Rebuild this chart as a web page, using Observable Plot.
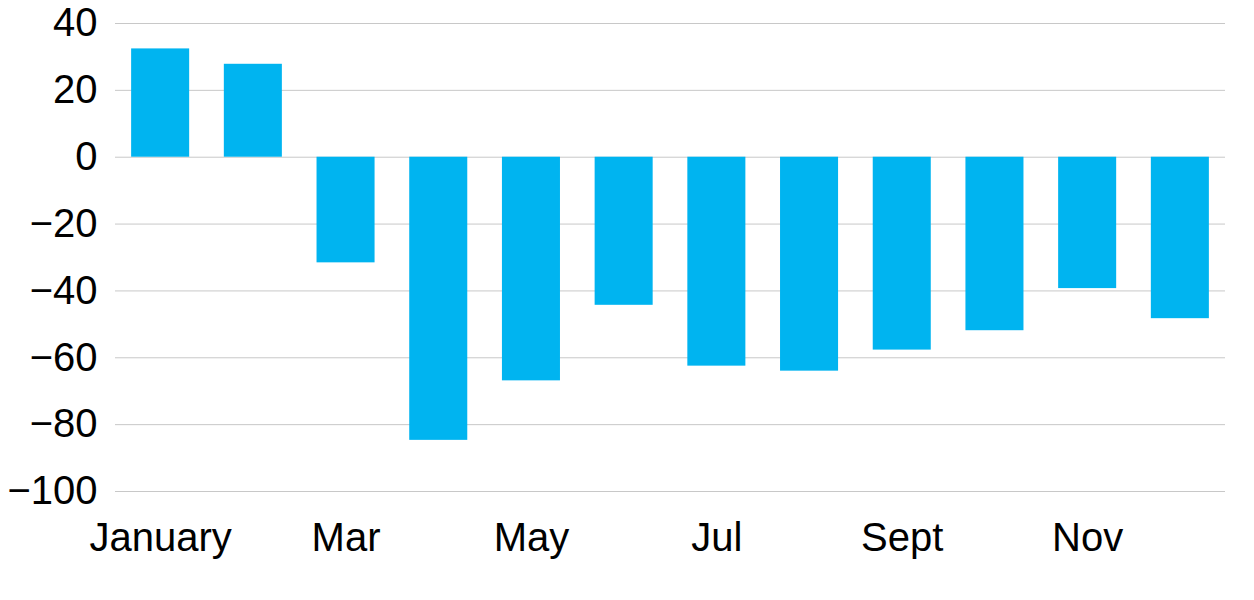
<!DOCTYPE html>
<html><head><meta charset="utf-8">
<script src="https://cdn.jsdelivr.net/npm/d3@7"></script>
<script src="https://cdn.jsdelivr.net/npm/@observablehq/plot@0.6"></script>
<style>
body{margin:0;background:#fff;}
#chart svg{font-family:"Liberation Sans",Arial,sans-serif;}
</style></head>
<body><div id="chart"></div>
<script>
const months = ["Jan","Feb","Mar","Apr","May","Jun","Jul","Aug","Sep","Oct","Nov","Dec"];
const values = [32.4, 27.8, -31.6, -84.7, -66.9, -44.3, -62.5, -64, -57.7, -51.9, -39.3, -48.3];
const xTickLabels = {Jan:"January", Mar:"Mar", May:"May", Jul:"Jul", Sep:"Sept", Nov:"Nov"};
const yTicks = [40, 20, 0, -20, -40, -60, -80, -100];

const data = months.map((m, i) => ({month: m, value: values[i]}));

const chart = Plot.plot({
  width: 1254,
  height: 600,
  marginTop: 23,
  marginBottom: 109,
  marginLeft: 115,
  marginRight: 29,
  style: {fontSize: "40px", color: "#000", background: "#fff"},
  x: {domain: months, paddingInner: 0.374, paddingOuter: 0.174, round: false, label: null},
  y: {domain: [-100, 40], label: null},
  marks: [
    Plot.gridY(yTicks, {stroke: "#c8c8c8", strokeOpacity: 1, strokeWidth: 1}),
    Plot.barY(data, {x: "month", y: "value", fill: "#00b4f0"}),
    Plot.axisY(yTicks, {tickSize: 0, tickPadding: 18, tickFormat: d => d < 0 ? "\u2212" + Math.abs(d) : String(d), fontSize: 40}),
    Plot.axisX(Object.keys(xTickLabels), {tickSize: 0, tickPadding: 31, tickFormat: d => xTickLabels[d], fontSize: 40})
  ]
});
document.getElementById("chart").appendChild(chart);
</script>
</body></html>
